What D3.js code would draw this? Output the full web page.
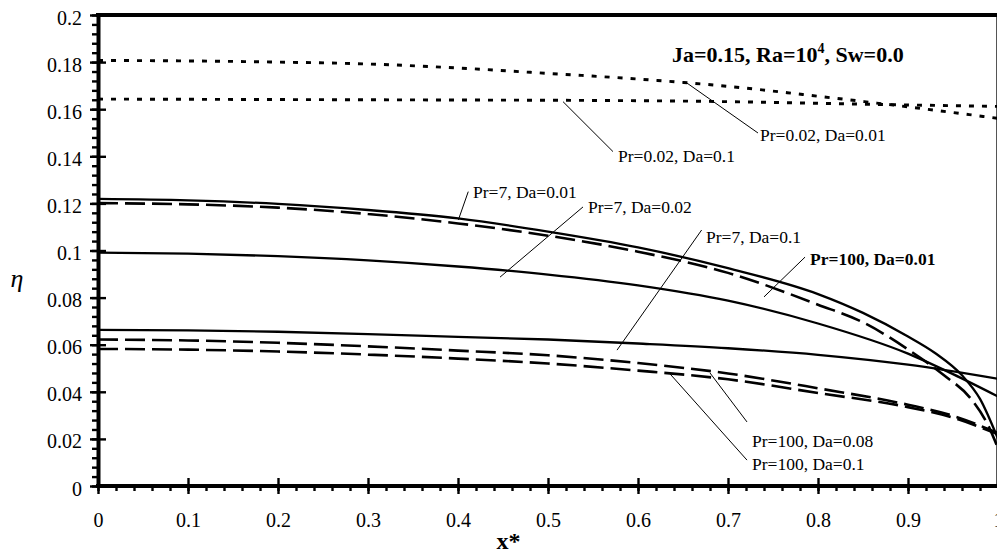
<!DOCTYPE html>
<html>
<head>
<meta charset="utf-8">
<script src="https://cdn.jsdelivr.net/npm/d3@7"></script>
<style>
  body { margin: 0; background: #fff; }
  svg text { font-family: "Liberation Serif", "Times New Roman", serif; fill: #000; }
</style>
</head>
<body>
<div id="chart-area"></div>
<script>
const MARGIN = { LEFT: 98, RIGHT: 0, TOP: 15, BOTTOM: 70 }
const WIDTH = 900
const HEIGHT = 471
const SERIF = "Liberation Serif"

// tick values / labels
const xTicks = [0, 0.1, 0.2, 0.3, 0.4, 0.5, 0.6, 0.7, 0.8, 0.9, 1]
const xTickLabels = ["0", "0.1", "0.2", "0.3", "0.4", "0.5", "0.6", "0.7", "0.8", "0.9", "1"]
const yTicks = [0, 0.02, 0.04, 0.06, 0.08, 0.1, 0.12, 0.14, 0.16, 0.18, 0.2]
const yTickLabels = ["0", "0.02", "0.04", "0.06", "0.08", "0.1", "0.12", "0.14", "0.16", "0.18", "0.2"]

// series: [x*, eta]
const pr002da001 = [[0, 0.1807], [0.1, 0.1805], [0.2, 0.1800], [0.3, 0.1792], [0.4, 0.1775], [0.5, 0.1752],
  [0.6, 0.1728], [0.7, 0.1697], [0.8, 0.1655], [0.9, 0.1610], [1, 0.1561]]
const pr002da01 = [[0, 0.1643], [0.1, 0.1642], [0.2, 0.1641], [0.3, 0.1640], [0.4, 0.1639], [0.5, 0.1638],
  [0.6, 0.1636], [0.7, 0.1632], [0.8, 0.1625], [0.9, 0.1618], [1, 0.1612]]
const pr7da001 = [[0, 0.1219], [0.1, 0.1213], [0.2, 0.1198], [0.3, 0.1172], [0.4, 0.1136], [0.5, 0.1080],
  [0.6, 0.1013], [0.7, 0.0925], [0.8, 0.0815], [0.85, 0.0735], [0.9, 0.0635], [0.93, 0.0565],
  [0.96, 0.0470], [0.98, 0.0370], [1, 0.0200]]
const pr100da001 = [[0, 0.1201], [0.1, 0.1196], [0.2, 0.1182], [0.3, 0.1155], [0.4, 0.1115], [0.5, 0.1063],
  [0.6, 0.0995], [0.7, 0.0905], [0.8, 0.0770], [0.85, 0.0695], [0.9, 0.0580], [0.94, 0.0470],
  [0.97, 0.0370], [0.99, 0.0250], [1, 0.0160]]
const pr7da002 = [[0, 0.0991], [0.1, 0.0987], [0.2, 0.0976], [0.3, 0.0958], [0.4, 0.0932], [0.5, 0.0898],
  [0.6, 0.0852], [0.7, 0.0787], [0.8, 0.0690], [0.9, 0.0562], [0.95, 0.0475], [1, 0.0380]]
const pr7da01 = [[0, 0.0663], [0.1, 0.0661], [0.2, 0.0655], [0.3, 0.0645], [0.4, 0.0633], [0.5, 0.0622],
  [0.6, 0.0605], [0.7, 0.0585], [0.8, 0.0557], [0.9, 0.0515], [1, 0.0455]]
const pr100da008 = [[0, 0.0622], [0.1, 0.0618], [0.2, 0.0608], [0.3, 0.0593], [0.4, 0.0575], [0.5, 0.0555],
  [0.6, 0.0522], [0.7, 0.0478], [0.8, 0.0415], [0.9, 0.0345], [0.95, 0.0298], [1, 0.0225]]
const pr100da01 = [[0, 0.0582], [0.1, 0.0579], [0.2, 0.0571], [0.3, 0.0558], [0.4, 0.0541], [0.5, 0.0520],
  [0.6, 0.0490], [0.7, 0.0453], [0.8, 0.0395], [0.9, 0.0335], [0.95, 0.0290], [1, 0.0220]]

const series = [
  { data: pr002da001, style: "dot" },
  { data: pr002da01, style: "dot" },
  { data: pr7da001, style: "solid" },
  { data: pr100da001, style: "dash" },
  { data: pr7da002, style: "solid" },
  { data: pr7da01, style: "solid" },
  { data: pr100da008, style: "dash" },
  { data: pr100da01, style: "dash" }
]

// annotations: label, label anchor, leader from -> to (all in data units)
const notes = [
  { text: "Pr=0.02, Da=0.01", at: [0.7356, 0.1465], from: [0.6544, 0.1711], to: [0.7333, 0.1499] },
  { text: "Pr=0.02, Da=0.1", at: [0.5778, 0.1376], from: [0.5167, 0.1632], to: [0.5722, 0.1420] },
  { text: "Pr=7, Da=0.01", at: [0.4167, 0.1223], from: [0.4004, 0.1130], to: [0.4114, 0.1250] },
  { text: "Pr=7, Da=0.02", at: [0.5444, 0.1159], from: [0.4467, 0.0887], to: [0.5389, 0.1185] },
  { text: "Pr=7, Da=0.1", at: [0.6756, 0.1032], from: [0.5767, 0.0577], to: [0.6707, 0.1087] },
  { text: "Pr=100, Da=0.01", at: [0.7911, 0.0938], from: [0.7400, 0.0803], to: [0.7856, 0.0972], bold: true },
  { text: "Pr=100, Da=0.08", at: [0.7267, 0.0166], from: [0.6800, 0.0480], to: [0.7211, 0.0272] },
  { text: "Pr=100, Da=0.1", at: [0.7267, 0.0068], from: [0.6356, 0.0476], to: [0.7211, 0.0110] }
]

const svg = d3.select("#chart-area").append("svg")
  .attr("width", 997)
  .attr("height", 556)

const g = svg.append("g")
  .attr("transform", `translate(${MARGIN.LEFT}, ${MARGIN.TOP})`)

// scales
const x = d3.scaleLinear().domain([0, 1]).range([0, WIDTH])
const y = d3.scaleLinear().domain([0, 0.2]).range([HEIGHT, 0])

// minor ticks
const xMinor = d3.range(0, 51).map(i => i * 0.02)
const yMinor = d3.range(0, 51).map(i => i * 0.004)

g.append("g")
  .attr("transform", `translate(0, ${HEIGHT})`)
  .call(d3.axisBottom(x).tickValues(xMinor).tickSize(5).tickFormat(""))
g.append("g")
  .call(d3.axisLeft(y).tickValues(yMinor).tickSize(6).tickFormat(""))

// major ticks, outside with labels
const xAxis = g.append("g")
  .attr("transform", `translate(0, ${HEIGHT})`)
  .call(d3.axisBottom(x).tickValues(xTicks).tickSize(8).tickPadding(19)
    .tickFormat((d, i) => xTickLabels[i]))
const yAxis = g.append("g")
  .call(d3.axisLeft(y).tickValues(yTicks).tickSize(8).tickPadding(8)
    .tickFormat((d, i) => yTickLabels[i]))

// major ticks, inside
g.append("g")
  .attr("transform", `translate(0, ${HEIGHT})`)
  .call(d3.axisTop(x).tickValues(xTicks).tickSize(8).tickFormat(""))
g.append("g")
  .call(d3.axisRight(y).tickValues(yTicks).tickSize(8).tickFormat(""))

g.selectAll(".domain").remove()
xAxis.attr("font-family", SERIF).attr("font-size", 20)
yAxis.attr("font-family", SERIF).attr("font-size", 20)
g.selectAll(".tick line").attr("stroke", "#000").attr("stroke-width", 2.4)
g.selectAll(".tick text")
  .attr("fill", "#000")
  .attr("font-family", SERIF)
  .style("font-family", SERIF)
  .style("font-size", "20px")
yAxis.selectAll(".tick text").attr("dy", "0.45em")

// frame
g.append("line")
  .attr("x1", x(1) - 1.5).attr("x2", x(1) - 1.5)
  .attr("y1", 0).attr("y2", HEIGHT)
  .attr("stroke", "#555").attr("stroke-width", 1)
g.append("line")
  .attr("x1", -2).attr("x2", x(1))
  .attr("y1", 0).attr("y2", 0)
  .attr("stroke", "#000").attr("stroke-width", 4)
g.append("line")
  .attr("x1", 0.5).attr("x2", 0.5)
  .attr("y1", -2).attr("y2", HEIGHT + 2)
  .attr("stroke", "#000").attr("stroke-width", 4)
g.append("line")
  .attr("x1", -2).attr("x2", x(1))
  .attr("y1", HEIGHT).attr("y2", HEIGHT)
  .attr("stroke", "#000").attr("stroke-width", 4)

// lines
const line = d3.line()
  .x(d => x(d[0]))
  .y(d => y(d[1]))
  .curve(d3.curveMonotoneX)

const dashes = { solid: null, dash: "20,7", dot: "5,8" }
const widths = { solid: 2.3, dash: 2.6, dot: 2.9 }

g.selectAll(".curve")
  .data(series)
  .enter().append("path")
  .attr("class", "curve")
  .attr("fill", "none")
  .attr("stroke", "#000")
  .attr("stroke-width", d => widths[d.style])
  .attr("stroke-dasharray", d => dashes[d.style])
  .attr("d", d => line(d.data))

// leaders and labels
g.selectAll(".leader")
  .data(notes)
  .enter().append("line")
  .attr("class", "leader")
  .attr("x1", d => x(d.from[0])).attr("y1", d => y(d.from[1]))
  .attr("x2", d => x(d.to[0])).attr("y2", d => y(d.to[1]))
  .attr("stroke", "#000").attr("stroke-width", 1)

g.selectAll(".note")
  .data(notes)
  .enter().append("text")
  .attr("class", "note")
  .attr("x", d => x(d.at[0]))
  .attr("y", d => y(d.at[1]))
  .style("font-size", "17.5px")
  .style("font-weight", d => d.bold ? "bold" : "normal")
  .text(d => d.text)

// title
const title = g.append("text")
  .attr("x", x(0.6378))
  .attr("y", y(0.18))
  .style("font-size", "22px")
  .style("font-weight", "bold")
title.append("tspan").text("Ja=0.15, Ra=10")
title.append("tspan").attr("dy", -9).style("font-size", "14px").text("4")
title.append("tspan").attr("dy", 9).text(", Sw=0.0")

// axis titles
svg.append("text")
  .attr("x", MARGIN.LEFT + x(0.456))
  .attr("y", 549)
  .attr("text-anchor", "middle")
  .style("font-size", "24px")
  .style("font-weight", "bold")
  .text("x*")

svg.append("text")
  .attr("x", 17)
  .attr("y", 287)
  .attr("text-anchor", "middle")
  .style("font-size", "26px")
  .style("font-style", "italic")
  .text("η")
</script>
</body>
</html>
